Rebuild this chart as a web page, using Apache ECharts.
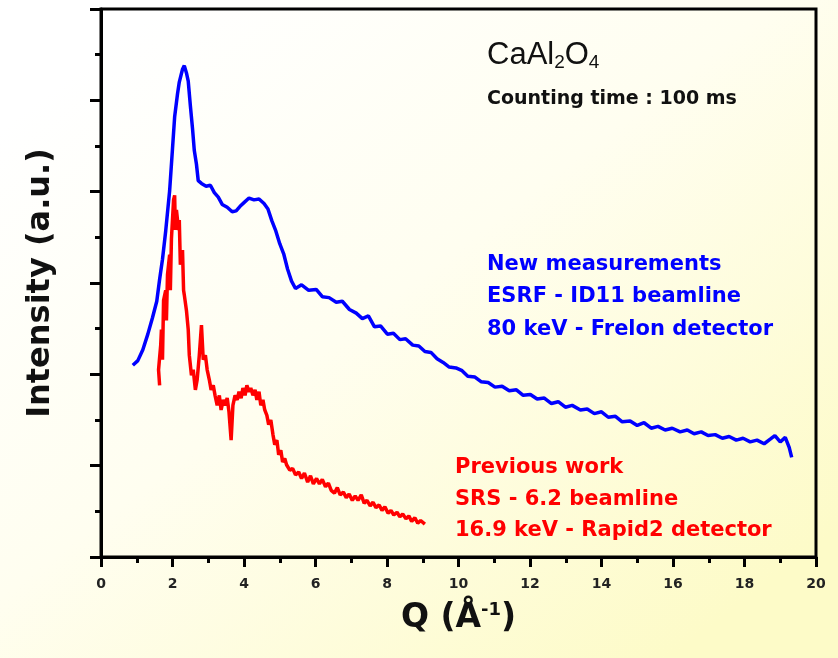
<!DOCTYPE html>
<html>
<head>
    <meta charset="utf-8">
    <title>CaAl2O4</title>
    <script src="https://cdn.jsdelivr.net/npm/echarts@6/dist/echarts.min.js"></script>
    <style type="text/css">
        html, body { margin: 0; padding: 0; }
        #main { width: 838px; height: 658px; }
    </style>
</head>
<body>
<div id="main"></div>
<script>
    // new measurements (ESRF - ID11), blue
    var qNew = [0.89, 1.03, 1.17, 1.31, 1.44, 1.56, 1.64, 1.72, 1.81, 1.92, 2.00, 2.06, 2.14, 2.19, 2.28, 2.33, 2.39, 2.44, 2.50, 2.56,
        2.61, 2.67, 2.72, 2.81, 2.94, 3.06, 3.17, 3.28, 3.39, 3.53, 3.67, 3.78, 3.89, 4.00, 4.14, 4.28, 4.42, 4.56, 4.67, 4.78,
        4.89, 5.00, 5.11, 5.22, 5.33, 5.44, 5.61, 5.81, 6.02, 6.19, 6.38, 6.58, 6.75, 6.95, 7.14, 7.31, 7.48, 7.65, 7.82, 8.01,
        8.18, 8.36, 8.52, 8.72, 8.89, 9.06, 9.23, 9.40, 9.57, 9.74, 9.93, 10.10, 10.26, 10.46, 10.63, 10.83, 11.02, 11.22, 11.42, 11.62,
        11.81, 12.01, 12.20, 12.40, 12.60, 12.79, 12.99, 13.18, 13.41, 13.60, 13.80, 14.00, 14.19, 14.39, 14.58, 14.80, 15.00, 15.19, 15.39, 15.58,
        15.78, 15.98, 16.20, 16.40, 16.59, 16.79, 16.98, 17.18, 17.38, 17.57, 17.77, 17.96, 18.16, 18.35, 18.55, 18.72, 18.85, 19.00, 19.14, 19.25, 19.32];
    var iNew = [2.10, 2.15, 2.27, 2.44, 2.62, 2.80, 3.04, 3.26, 3.57, 4.01, 4.47, 4.82, 5.07, 5.20, 5.34, 5.38, 5.30, 5.21, 4.94, 4.69,
        4.45, 4.30, 4.12, 4.09, 4.06, 4.07, 3.99, 3.94, 3.86, 3.83, 3.78, 3.79, 3.84, 3.88, 3.93, 3.91, 3.92, 3.87, 3.81, 3.68,
        3.57, 3.43, 3.32, 3.15, 3.02, 2.94, 2.98, 2.92, 2.93, 2.85, 2.84, 2.79, 2.80, 2.71, 2.67, 2.61, 2.64, 2.52, 2.53, 2.44,
        2.45, 2.38, 2.39, 2.32, 2.31, 2.25, 2.24, 2.17, 2.13, 2.08, 2.07, 2.04, 1.98, 1.97, 1.92, 1.91, 1.86, 1.87, 1.82, 1.83,
        1.77, 1.78, 1.73, 1.74, 1.68, 1.70, 1.64, 1.66, 1.61, 1.62, 1.57, 1.59, 1.53, 1.54, 1.48, 1.49, 1.44, 1.47, 1.41, 1.43,
        1.39, 1.41, 1.37, 1.39, 1.35, 1.37, 1.33, 1.34, 1.30, 1.32, 1.28, 1.30, 1.26, 1.28, 1.24, 1.29, 1.33, 1.26, 1.31, 1.20, 1.09];

    // previous work (SRS - 6.2), red
    var qOld = [1.64, 1.61, 1.67, 1.69, 1.72, 1.75, 1.81, 1.83, 1.86, 1.92, 1.94, 1.97, 2.03, 2.06, 2.08, 2.11, 2.17, 2.19, 2.22, 2.28,
        2.31, 2.33, 2.39, 2.44, 2.47, 2.53, 2.58, 2.64, 2.69, 2.75, 2.81, 2.86, 2.92, 2.97, 3.03, 3.08, 3.14, 3.19, 3.25, 3.31,
        3.36, 3.42, 3.47, 3.53, 3.58, 3.64, 3.69, 3.75, 3.81, 3.86, 3.92, 3.97, 4.03, 4.08, 4.14, 4.19, 4.25, 4.31, 4.36, 4.42,
        4.47, 4.53, 4.58, 4.64, 4.69, 4.75, 4.81, 4.86, 4.92, 4.97, 5.03, 5.08, 5.14, 5.19, 5.28, 5.36, 5.44, 5.53, 5.61, 5.69,
        5.78, 5.86, 5.94, 6.03, 6.11, 6.19, 6.28, 6.36, 6.44, 6.53, 6.61, 6.69, 6.78, 6.86, 6.94, 7.03, 7.11, 7.19, 7.28, 7.36,
        7.44, 7.53, 7.61, 7.69, 7.78, 7.86, 7.94, 8.03, 8.11, 8.19, 8.28, 8.36, 8.44, 8.53, 8.61, 8.69, 8.78, 8.86, 8.94, 9.06];
    var iOld = [1.88, 2.05, 2.32, 2.49, 2.16, 2.81, 2.92, 2.59, 3.09, 3.31, 2.92, 3.48, 3.91, 3.96, 3.58, 3.80, 3.58, 3.69, 3.20, 3.36,
        2.92, 2.87, 2.70, 2.49, 2.21, 1.99, 2.05, 1.83, 1.94, 2.21, 2.54, 2.16, 2.21, 2.05, 1.94, 1.83, 1.88, 1.77, 1.66, 1.77,
        1.61, 1.72, 1.66, 1.74, 1.59, 1.28, 1.66, 1.77, 1.72, 1.81, 1.74, 1.85, 1.77, 1.88, 1.81, 1.85, 1.77, 1.83, 1.72, 1.81,
        1.66, 1.72, 1.61, 1.55, 1.45, 1.50, 1.34, 1.23, 1.28, 1.12, 1.17, 1.04, 1.08, 1.01, 0.95, 0.97, 0.90, 0.93, 0.86, 0.92,
        0.82, 0.89, 0.80, 0.86, 0.80, 0.85, 0.77, 0.81, 0.73, 0.70, 0.76, 0.68, 0.71, 0.65, 0.69, 0.62, 0.67, 0.62, 0.68, 0.59,
        0.62, 0.56, 0.60, 0.54, 0.57, 0.51, 0.55, 0.48, 0.51, 0.46, 0.49, 0.44, 0.47, 0.42, 0.45, 0.39, 0.43, 0.37, 0.40, 0.36];

    var xTicks = [0, 2, 4, 6, 8, 10, 12, 14, 16, 18, 20];

    function pairs(xs, ys) {
        var out = [];
        for (var i = 0; i < xs.length; i++) {
            out.push([xs[i], ys[i]]);
        }
        return out;
    }

    var myChart = echarts.init(document.getElementById('main'));
    var font = '"DejaVu Sans", "Liberation Sans", Arial, sans-serif';
    var fontArial = '"Liberation Sans", Arial, sans-serif';

    var option = {
        animation: false,
        backgroundColor: {
            type: 'linear', x: 0.2, y: 0, x2: 0.8, y2: 1,
            colorStops: [
                {offset: 0, color: '#ffffff'},
                {offset: 0.45, color: '#fffef0'},
                {offset: 1, color: '#fdfbc8'}
            ]
        },
        grid: {
            left: 101, right: 22, top: 9, bottom: 101,
            show: true,
            borderColor: '#000', borderWidth: 3,
            backgroundColor: 'transparent'
        },
        xAxis: {
            type: 'value',
            min: 0, max: 20, interval: 2,
            name: '{a|Q (Å}{s|-1}{a|)}',
            nameLocation: 'middle',
            nameGap: 44,
            nameTextStyle: {
                rich: {
                    a: {fontFamily: font, fontWeight: 'bold', fontSize: 33, color: '#111'},
                    s: {fontFamily: font, fontWeight: 'bold', fontSize: 18, color: '#111', verticalAlign: 'top', padding: [0, 0, 16, 0]}
                }
            },
            axisLine: {lineStyle: {color: '#000', width: 3}},
            axisTick: {inside: false, length: 10, lineStyle: {color: '#000', width: 3}},
            minorTick: {show: true, splitNumber: 2, length: 6, lineStyle: {color: '#000', width: 3}},
            axisLabel: {
                margin: 20, color: '#222', fontFamily: font, fontWeight: 'bold', fontSize: 14,
                formatter: function (v) { return xTicks.indexOf(v) >= 0 ? String(v) : ''; }
            },
            splitLine: {show: false}
        },
        yAxis: {
            type: 'value',
            min: 0, max: 6, interval: 1,
            name: 'Intensity (a.u.)',
            nameLocation: 'middle',
            nameRotate: 90,
            nameGap: 44,
            nameTextStyle: {fontFamily: font, fontWeight: 'bold', fontSize: 32, color: '#111'},
            axisLine: {lineStyle: {color: '#000', width: 3}},
            axisTick: {inside: false, length: 11, lineStyle: {color: '#000', width: 3}},
            minorTick: {show: true, splitNumber: 2, length: 6, lineStyle: {color: '#000', width: 3}},
            axisLabel: {show: false},
            splitLine: {show: false}
        },
        series: [
            {
                name: 'New measurements',
                type: 'line',
                data: pairs(qNew, iNew),
                showSymbol: false,
                lineStyle: {color: '#0000ff', width: 3.5},
                z: 3
            },
            {
                name: 'Previous work',
                type: 'line',
                data: pairs(qOld, iOld),
                showSymbol: false,
                lineStyle: {color: '#ff0000', width: 3.5},
                z: 2
            }
        ],
        graphic: [
            {
                type: 'text', left: 487, top: 40,
                style: {
                    text: '{a|CaAl}{s|2}{a|O}{s|4}',
                    rich: {
                        a: {fontFamily: fontArial, fontSize: 31, fill: '#111', color: '#111'},
                        s: {fontFamily: fontArial, fontSize: 19, fill: '#111', color: '#111', verticalAlign: 'bottom', padding: [14, 0, 0, 0]}
                    }
                }
            },
            {
                type: 'text', left: 487, top: 90,
                style: {text: 'Counting time : 100 ms', font: 'bold 19px ' + font, fill: '#111'}
            },
            {
                type: 'text', left: 487, top: 248,
                style: {text: 'New measurements\nESRF - ID11 beamline\n80 keV - Frelon detector', font: 'bold 21px ' + font, fill: '#0000ff', lineHeight: 32.5}
            },
            {
                type: 'text', left: 455, top: 452,
                style: {text: 'Previous work\nSRS - 6.2 beamline\n16.9 keV - Rapid2 detector', font: 'bold 21px ' + font, fill: '#ff0000', lineHeight: 31.5}
            }
        ]
    };

    myChart.setOption(option);
</script>
</body>
</html>
